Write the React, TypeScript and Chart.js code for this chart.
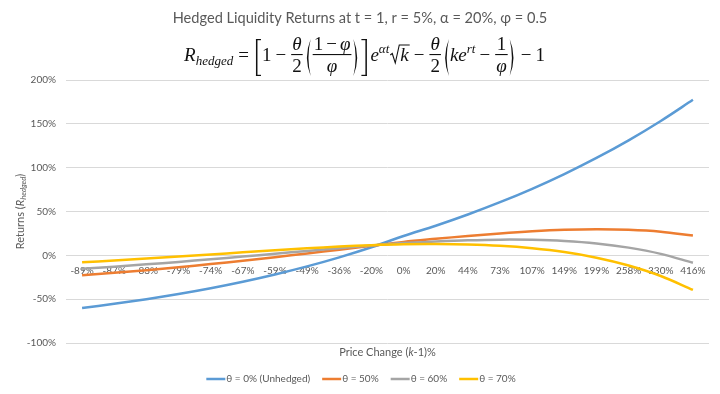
import React, { useEffect, useRef } from 'react';
import { Chart, registerables } from 'chart.js';
Chart.register(...registerables);

const priceChangeLabels = ['-89%','-87%','-83%','-79%','-74%','-67%','-59%','-49%','-36%','-20%','0%','20%','44%','73%','107%','149%','199%','258%','330%','416%'];
const unhedged = [-60.0,-55.3,-50.0,-44.1,-37.5,-30.1,-21.8,-12.6,-2.3,9.2,22.1,33.8,46.6,60.6,75.9,92.7,111.1,131.2,153.3,177.4];
const theta50 = [-22.8,-20.0,-16.9,-13.6,-10.0,-6.2,-2.1,2.1,6.5,10.9,15.3,18.8,22.1,25.0,27.4,29.1,29.8,29.2,27.0,22.5];
const theta60 = [-15.4,-12.9,-10.3,-7.5,-4.5,-1.4,1.8,5.0,8.2,11.2,14.0,15.8,17.2,17.9,17.7,16.4,13.6,8.8,1.7,-8.5];
const theta70 = [-7.9,-5.9,-3.7,-1.4,1.0,3.4,5.7,8.0,10.0,11.6,12.6,12.8,12.3,10.8,8.0,3.7,-2.7,-11.6,-23.6,-39.5];
const seriesNames = ['θ = 0% (Unhedged)', 'θ = 50%', 'θ = 60%', 'θ = 70%'];
const seriesColors = ['#5B9BD5', '#ED7D31', '#A5A5A5', '#FFC000'];
const yMin = -100;
const yMax = 200;
const yStep = 50;
const titleText = 'Hedged Liquidity Returns at t = 1, r = 5%, α = 20%, φ = 0.5';

const UI = 'Lato, "Open Sans", sans-serif';
const TXT = '#595959';
const MF = '"Liberation Serif", "DejaVu Serif", serif';
const FS = 19;

type Tok =
  | { k: 't'; s: string; it?: boolean; sz?: number; dy?: number }
  | { k: 'sp'; w: number }
  | { k: 'fr'; n: Tok[]; d: Tok[] }
  | { k: 'p'; c: string }
  | { k: 'sqrt'; c: Tok[] };

const T = (s: string, it = false, sz?: number, dy?: number): Tok => ({ k: 't', s, it, sz, dy });
const SP = (w: number): Tok => ({ k: 'sp', w });
const FR = (n: Tok[], d: Tok[]): Tok => ({ k: 'fr', n, d });
const P = (c: string): Tok => ({ k: 'p', c });

const fnt = (size: number, it: boolean) => `${it ? 'italic ' : ''}${size}px ${MF}`;

function measureToks(ctx: CanvasRenderingContext2D, toks: Tok[]): number {
  let w = 0;
  for (const t of toks) w += tokW(ctx, t);
  return w;
}
function tokW(ctx: CanvasRenderingContext2D, t: Tok): number {
  switch (t.k) {
    case 't':
      ctx.font = fnt(t.sz || FS, !!t.it);
      return ctx.measureText(t.s).width;
    case 'sp':
      return t.w;
    case 'fr':
      return Math.max(measureToks(ctx, t.n), measureToks(ctx, t.d)) + 4;
    case 'p':
      return 8;
    case 'sqrt':
      return 12 + measureToks(ctx, t.c);
  }
  return 0;
}
function drawToks(ctx: CanvasRenderingContext2D, toks: Tok[], x: number, B: number) {
  for (const t of toks) {
    const w = tokW(ctx, t);
    drawTok(ctx, t, x, B, w);
    x += w;
  }
}
function drawTok(ctx: CanvasRenderingContext2D, t: Tok, x: number, B: number, w: number) {
  const top = B - 22;
  const bot = B + 15;
  const mid = (top + bot) / 2;
  switch (t.k) {
    case 't':
      ctx.font = fnt(t.sz || FS, !!t.it);
      ctx.textAlign = 'left';
      ctx.textBaseline = 'alphabetic';
      ctx.fillText(t.s, x, B + (t.dy || 0));
      break;
    case 'fr': {
      const nw = measureToks(ctx, t.n);
      const dw = measureToks(ctx, t.d);
      drawToks(ctx, t.n, x + (w - nw) / 2, B - 11);
      drawToks(ctx, t.d, x + (w - dw) / 2, B + 11);
      ctx.fillRect(x + 1, B - 7, w - 2, 1.1);
      break;
    }
    case 'p': {
      ctx.beginPath();
      if (t.c === '(') {
        ctx.moveTo(x + 7, top);
        ctx.quadraticCurveTo(x - 0.5, mid, x + 7, bot);
        ctx.quadraticCurveTo(x + 2.6, mid, x + 7, top);
        ctx.fill();
      } else if (t.c === ')') {
        ctx.moveTo(x + 1, top);
        ctx.quadraticCurveTo(x + 8.5, mid, x + 1, bot);
        ctx.quadraticCurveTo(x + 5.4, mid, x + 1, top);
        ctx.fill();
      } else if (t.c === '[') {
        ctx.fillRect(x + 2, top, 1.5, bot - top);
        ctx.fillRect(x + 2, top, 5, 1.2);
        ctx.fillRect(x + 2, bot - 1.2, 5, 1.2);
      } else {
        ctx.fillRect(x + 5, top, 1.5, bot - top);
        ctx.fillRect(x + 1, top, 5.5, 1.2);
        ctx.fillRect(x + 1, bot - 1.2, 5.5, 1.2);
      }
      break;
    }
    case 'sqrt': {
      const cw = measureToks(ctx, t.c);
      ctx.save();
      ctx.lineWidth = 1.1;
      ctx.beginPath();
      ctx.moveTo(x + 1, B - 6);
      ctx.lineTo(x + 3, B - 7.5);
      ctx.lineTo(x + 6, B + 2);
      ctx.lineTo(x + 10, B - 16);
      ctx.lineTo(x + 12 + cw, B - 16);
      ctx.stroke();
      ctx.restore();
      drawToks(ctx, t.c, x + 11, B);
      break;
    }
  }
}

const MINUS = '−';
const formula: Tok[] = [
  T('R', true), T('hedged', true, 13, 4), SP(5), T('='), SP(5),
  P('['), T('1'), SP(4), T(MINUS), SP(4), FR([T('θ', true)], [T('2')]),
  P('('), FR([T('1'), SP(3), T(MINUS), SP(3), T('φ', true)], [T('φ', true)]), P(')'), P(']'),
  SP(2), T('e', true), T('αt', true, 13, -8), { k: 'sqrt', c: [T('k', true)] },
  SP(4), T(MINUS), SP(4), FR([T('θ', true)], [T('2')]),
  P('('), T('ke', true), T('rt', true, 13, -8), SP(4), T(MINUS), SP(4), FR([T('1')], [T('φ', true)]), P(')'),
  SP(4), T(MINUS), SP(4), T('1'),
];

function drawRich(ctx: CanvasRenderingContext2D, parts: { s: string; it?: boolean; sub?: boolean }[], size: number, cx: number, cy: number) {
  const fontOf = (p: { it?: boolean; sub?: boolean }) => `${p.it ? 'italic ' : ''}${p.sub ? size * 0.7 : size}px ${UI}`;
  let total = 0;
  for (const p of parts) { ctx.font = fontOf(p); total += ctx.measureText(p.s).width; }
  let x = cx - total / 2;
  ctx.textAlign = 'left';
  ctx.textBaseline = 'middle';
  for (const p of parts) {
    ctx.font = fontOf(p);
    ctx.fillText(p.s, x, cy + (p.sub ? size * 0.3 : 0));
    x += ctx.measureText(p.s).width;
  }
}

const decor = {
  id: 'decor',
  beforeDatasetsDraw(chart: any) {
    const ctx: CanvasRenderingContext2D = chart.ctx;
    const xs = chart.scales.x;
    const ys = chart.scales.y;
    const y0 = ys.getPixelForValue(0) + 15;
    ctx.save();
    ctx.fillStyle = TXT;
    ctx.font = `10px ${UI}`;
    ctx.textAlign = 'center';
    ctx.textBaseline = 'middle';
    priceChangeLabels.forEach((l, i) => ctx.fillText(l, xs.getPixelForValue(i), y0));
    ctx.restore();
  },
  afterDraw(chart: any) {
    const ctx: CanvasRenderingContext2D = chart.ctx;
    const area = chart.chartArea;
    ctx.save();
    // title
    ctx.fillStyle = TXT;
    ctx.font = `14.6px ${UI}`;
    ctx.textAlign = 'center';
    ctx.textBaseline = 'middle';
    ctx.fillText(titleText, 360, 18);
    // formula
    ctx.fillStyle = '#111';
    ctx.strokeStyle = '#111';
    const fw = measureToks(ctx, formula);
    drawToks(ctx, formula, 364.5 - fw / 2, 61);
    // x title
    ctx.fillStyle = TXT;
    drawRich(ctx, [{ s: 'Price Change (' }, { s: 'k', it: true }, { s: '-1)%' }], 11, (area.left + area.right) / 2, 352);
    // y title
    ctx.save();
    ctx.translate(20, (area.top + area.bottom) / 2);
    ctx.rotate(-Math.PI / 2);
    drawRich(ctx, [{ s: 'Returns (' }, { s: 'R', it: true }, { s: 'hedged', it: true, sub: true }, { s: ')' }], 11, 0, 0);
    ctx.restore();
    // legend
    ctx.font = `10px ${UI}`;
    const lineW = 19;
    const gap = 1;
    const itemGap = 12;
    const widths = seriesNames.map((n) => ctx.measureText(n).width);
    const total = widths.reduce((a, w) => a + lineW + gap + w, 0) + itemGap * (seriesNames.length - 1);
    let x = 361 - total / 2;
    const ly = 379;
    seriesNames.forEach((n, i) => {
      ctx.strokeStyle = seriesColors[i];
      ctx.lineWidth = 2.5;
      ctx.beginPath();
      ctx.moveTo(x, ly);
      ctx.lineTo(x + lineW, ly);
      ctx.stroke();
      ctx.fillStyle = TXT;
      ctx.textAlign = 'left';
      ctx.textBaseline = 'middle';
      ctx.fillText(n, x + lineW + gap, ly);
      x += lineW + gap + widths[i] + itemGap;
    });
    ctx.restore();
  },
};

export default function App() {
  const ref = useRef<HTMLCanvasElement>(null);
  useEffect(() => {
    if (!ref.current) return;
    const series = [unhedged, theta50, theta60, theta70];
    const chart = new Chart(ref.current, {
      type: 'line',
      data: {
        labels: priceChangeLabels,
        datasets: series.map((d, i) => ({
          label: seriesNames[i],
          data: d,
          borderColor: seriesColors[i],
          backgroundColor: seriesColors[i],
          borderWidth: 2.5,
          pointRadius: 0,
          tension: 0.35,
          fill: false,
          order: 4 - i,
        })),
      },
      options: {
        responsive: false,
        animation: false,
        layout: { padding: { top: 80, bottom: 51, left: 0, right: 11 } },
        plugins: { legend: { display: false }, title: { display: false }, tooltip: { enabled: false } },
        scales: {
          x: { type: 'category', display: false, offset: true },
          y: {
            min: yMin,
            max: yMax,
            ticks: {
              stepSize: yStep,
              padding: 10,
              color: TXT,
              font: { family: 'Lato', size: 10 },
              callback: (v: any) => `${v}%`,
            },
            grid: { color: '#D9D9D9', drawTicks: false, lineWidth: 1 },
            border: { display: false },
            afterFit: (s: any) => { s.width = 66; },
          },
        },
      },
      plugins: [decor],
    } as any);
    return () => chart.destroy();
  }, []);
  return (
    <div style={{ position: 'absolute', left: 0, top: 0, width: 720, height: 394, background: '#fff' }}>
      <canvas ref={ref} width={720} height={394} style={{ display: 'block' }} />
    </div>
  );
}
